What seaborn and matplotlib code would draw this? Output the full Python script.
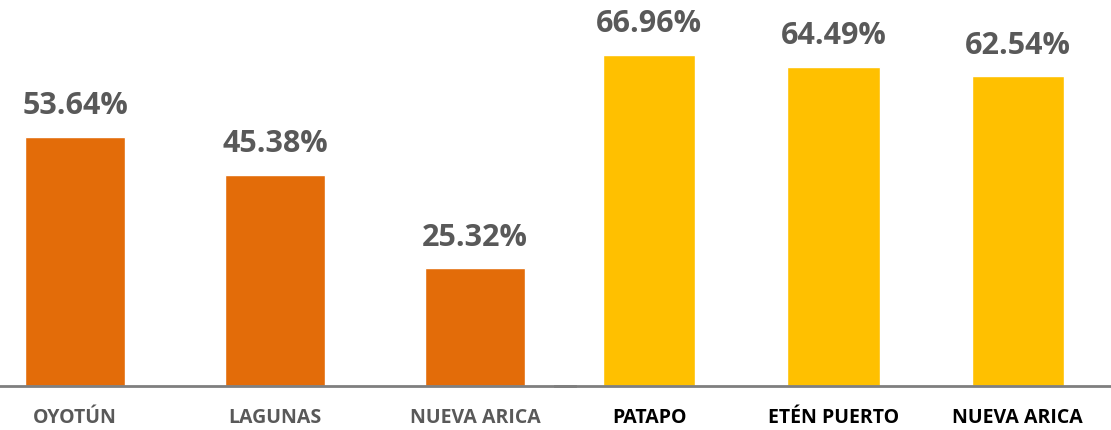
import matplotlib
matplotlib.use("Agg")
import matplotlib.pyplot as plt
import seaborn as sns
import pandas as pd

sns.set_theme(style="white")
plt.rcParams['font.family'] = ['Open Sans', 'DejaVu Sans']

left_cats = ["OYOTÚN", "LAGUNAS", "NUEVA ARICA"]
left_vals = [53.64, 45.38, 25.32]
right_cats = ["PATAPO", "ETÉN PUERTO", "NUEVA ARICA"]
right_vals = [66.96, 64.49, 62.54]

ORANGE = "#E36C09"
YELLOW = "#FFC000"
GRAY = "#595959"

W, H = 1111, 431
fig = plt.figure(figsize=(W / 100, H / 100), dpi=100)

def panel(rect, cats, vals, color, ymax, xlim, tick_color):
    ax = fig.add_axes(rect)
    df = pd.DataFrame({"cat": cats, "val": vals})
    sns.barplot(data=df, x="cat", y="val", color=color, width=0.5,
                saturation=1, ax=ax)
    ax.set_xlim(*xlim)
    ax.set_ylim(0, ymax)
    ax.set_xlabel("")
    ax.set_ylabel("")
    ax.set_yticks([])
    for s in ["top", "right", "left"]:
        ax.spines[s].set_visible(False)
    ax.spines["bottom"].set_color("#7F7F7F")
    ax.spines["bottom"].set_linewidth(2)
    ax.patch.set_alpha(0)
    ax.tick_params(axis="x", length=0, pad=15)
    for lbl in ax.get_xticklabels():
        lbl.set_fontweight("bold")
        lbl.set_fontsize(14)
        lbl.set_color(tick_color)
    for c in ax.containers:
        ax.bar_label(c, labels=[f"{v:.2f}%" for v in vals], padding=12,
                     fontsize=22, fontweight="bold", color=GRAY)
    return ax

base = 44 / H
# left panel: 0..575 px
panel([0 / W, base, 575 / W, 387 / H], left_cats, left_vals, ORANGE,
      387 / 4.65, (-0.375, 2.5), GRAY)
# right panel: 555..1111 px
panel([555 / W, base, 556 / W, 387 / H], right_cats, right_vals, YELLOW,
      387 / 4.95, (-0.51, 2.505), "black")

fig.savefig("out.png", dpi=100)
